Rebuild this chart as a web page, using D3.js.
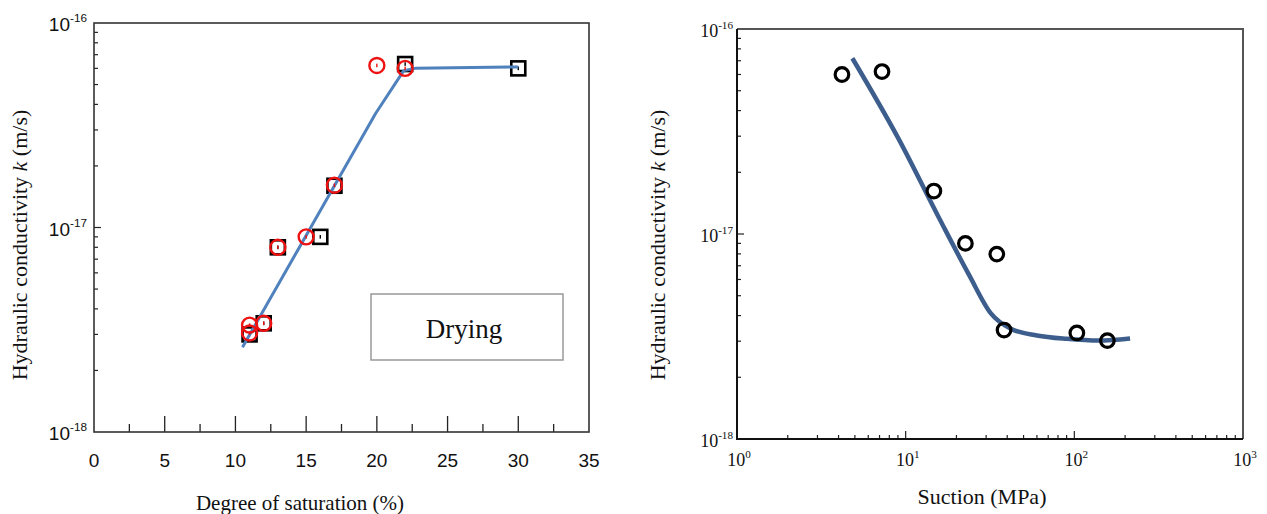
<!DOCTYPE html>
<html><head><meta charset="utf-8">
<script src="https://cdn.jsdelivr.net/npm/d3@7"></script>
<style>body{margin:0;background:#fff}svg{display:block}</style>
</head><body>
<svg id="c" width="1267" height="514"></svg>
<script>
// ---- Data ----
// Left: degree of saturation vs k
const satTicks = [0,5,10,15,20,25,30,35];
const kTickExps = [-16,-17,-18];
const satCircleX = [11, 11, 12, 13, 15, 17, 20, 22];
const satCircleK = [3.33e-18, 3.05e-18, 3.4e-18, 8.0e-18, 9.0e-18, 1.61e-17, 6.2e-17, 6.0e-17];
const satSquareX = [11, 12, 13, 16, 17, 22, 30];
const satSquareK = [3.0e-18, 3.4e-18, 8.0e-18, 9.0e-18, 1.6e-17, 6.3e-17, 6.0e-17];
const satFitX = [10.5, 15.1, 17.0, 19.9, 21.9, 22.7, 30];
const satFitK = [2.6e-18, 9.4e-18, 1.6e-17, 3.6e-17, 5.85e-17, 6.0e-17, 6.1e-17];
const legendLabel = "Drying";
// Right: suction vs k
const suctionTickExps = [0,1,2,3];
const sucPtX = [4.19, 7.24, 14.7, 22.6, 34.7, 38.3, 103.5, 157];
const sucPtK = [6.0e-17, 6.2e-17, 1.62e-17, 9.0e-18, 7.98e-18, 3.4e-18, 3.29e-18, 3.02e-18];
const sucFitX = [4.83, 9.0, 16.0, 23.8, 32, 42, 60, 90, 140, 214];
const sucFitK = [7.2e-17, 2.95e-17, 1.17e-17, 6.3e-18, 4.1e-18, 3.45e-18, 3.2e-18, 3.08e-18, 3.02e-18, 3.09e-18];

const svg = d3.select("#c");

function supLabel(g, x, y, base, exp, opts) {
  const t = g.append("text").attr("x", x).attr("y", y)
    .attr("font-family", opts.family).attr("font-size", opts.size)
    .attr("text-anchor", opts.anchor).attr("fill", "#111");
  t.append("tspan").text(base);
  t.append("tspan").attr("font-size", opts.size*0.62).attr("dy", -opts.size*0.45).text(exp);
  return t;
}
function minorLog(lo, hi) {
  const out = [];
  for (let e = lo; e < hi; e++) for (let m = 2; m <= 9; m++) out.push(m*Math.pow(10,e));
  return out;
}
const SERIF = "Liberation Serif, Times New Roman, serif";
const SANS = "Liberation Sans, Arial, sans-serif";

// ================= LEFT CHART =================
{
  const L = 94, R = 589, T = 23, B = 432;
  const x = d3.scaleLinear().domain([0,35]).range([L,R]);
  const y = d3.scaleLog().domain([1e-18,1e-16]).range([B,T]);
  const g = svg.append("g");

  const yMinor = minorLog(-18,-16);
  g.append("g").selectAll("line").data(yMinor).join("line")
    .attr("x1", L).attr("x2", L+4).attr("y1", d=>y(d)).attr("y2", d=>y(d))
    .attr("stroke","#222").attr("stroke-width",1.2);
  g.append("line").attr("x1",L).attr("x2",L+7).attr("y1",y(1e-17)).attr("y2",y(1e-17))
    .attr("stroke","#222").attr("stroke-width",1.2);
  g.append("g").selectAll("line").data(satTicks.slice(1,-1)).join("line")
    .attr("x1", d=>x(d)).attr("x2", d=>x(d)).attr("y1", B).attr("y2", B-16)
    .attr("stroke","#222").attr("stroke-width",1.3);
  const xMinor = d3.range(2.5, 35, 5);
  g.append("g").selectAll("line").data(xMinor).join("line")
    .attr("x1", d=>x(d)).attr("x2", d=>x(d)).attr("y1", B).attr("y2", B-8)
    .attr("stroke","#222").attr("stroke-width",1.3);
  g.append("rect").attr("x",L).attr("y",T).attr("width",R-L).attr("height",B-T)
    .attr("fill","none").attr("stroke","#333").attr("stroke-width",1.6);

  satTicks.forEach(v => g.append("text").attr("x", x(v)).attr("y", 467)
    .attr("text-anchor","middle").attr("font-family",SANS)
    .attr("font-size",19).attr("fill","#111").text(v));
  kTickExps.forEach(e => supLabel(g, 87, y(Math.pow(10,e))+8, "10", String(e),
    {family:SANS, size:19, anchor:"end"}));

  g.append("text").attr("x", 300).attr("y", 510).attr("text-anchor","middle")
    .attr("font-family",SERIF).attr("font-size",21)
    .attr("fill","#111").text("Degree of saturation (%)");
  const yt = g.append("text").attr("transform","translate(27,245) rotate(-90)")
    .attr("text-anchor","middle").attr("font-family",SERIF)
    .attr("font-size",22).attr("fill","#111");
  yt.append("tspan").text("Hydraulic conductivity ");
  yt.append("tspan").attr("font-style","italic").text("k");
  yt.append("tspan").text(" (m/s)");

  g.append("rect").attr("x",371).attr("y",294).attr("width",192).attr("height",66)
    .attr("fill","#fff").attr("stroke","#999").attr("stroke-width",1.5);
  g.append("text").attr("x",464).attr("y",338).attr("text-anchor","middle")
    .attr("font-family",SERIF).attr("font-size",27)
    .attr("fill","#111").text(legendLabel);

  const sq = satSquareX.map((v,i)=>({x:v,k:satSquareK[i]}));
  const s = 14;
  g.append("g").selectAll("rect").data(sq).join("rect")
    .attr("x", d=>x(d.x)-s/2).attr("y", d=>y(d.k)-s/2).attr("width",s).attr("height",s)
    .attr("fill","none").attr("stroke","#000").attr("stroke-width",2.6);
  g.append("g").selectAll("rect").data(sq).join("rect")
    .attr("x", d=>x(d.x)-0.7).attr("y", d=>y(d.k)-1.8).attr("width",1.4).attr("height",3.6)
    .attr("fill","#000");

  const fit = satFitX.map((v,i)=>({x:v,k:satFitK[i]}));
  g.append("path").datum(fit)
    .attr("d", d3.line().x(d=>x(d.x)).y(d=>y(d.k)).curve(d3.curveLinear))
    .attr("fill","none").attr("stroke","#4f81bd").attr("stroke-width",3)
    .attr("stroke-linejoin","round");

  const ci = satCircleX.map((v,i)=>({x:v,k:satCircleK[i]}));
  g.append("g").selectAll("circle").data(ci).join("circle")
    .attr("cx", d=>x(d.x)).attr("cy", d=>y(d.k)).attr("r",7.5)
    .attr("fill","none").attr("stroke","#ee1111").attr("stroke-width",2.4);
  g.append("g").selectAll("rect").data(ci).join("rect")
    .attr("x", d=>x(d.x)-0.7).attr("y", d=>y(d.k)-1.8).attr("width",1.4).attr("height",3.6)
    .attr("fill","#ee1111");
}

// ================= RIGHT CHART =================
{
  const L = 737, R = 1243, T = 29, B = 439;
  const x = d3.scaleLog().domain([1,1000]).range([L,R]);
  const y = d3.scaleLog().domain([1e-18,1e-16]).range([B,T]);
  const g = svg.append("g");

  const yMinor = minorLog(-18,-16);
  g.append("g").selectAll("line").data(yMinor).join("line")
    .attr("x1", L).attr("x2", L+4).attr("y1", d=>y(d)).attr("y2", d=>y(d))
    .attr("stroke","#222").attr("stroke-width",1.2);
  g.append("line").attr("x1",L).attr("x2",L+7).attr("y1",y(1e-17)).attr("y2",y(1e-17))
    .attr("stroke","#222").attr("stroke-width",1.2);
  const xMinor = minorLog(0,3);
  g.append("g").selectAll("line").data(xMinor).join("line")
    .attr("x1", d=>x(d)).attr("x2", d=>x(d)).attr("y1", B).attr("y2", B-4)
    .attr("stroke","#222").attr("stroke-width",1.2);
  g.append("g").selectAll("line").data([10,100]).join("line")
    .attr("x1", d=>x(d)).attr("x2", d=>x(d)).attr("y1", B).attr("y2", B-8)
    .attr("stroke","#222").attr("stroke-width",1.2);
  g.append("path").attr("d",`M${L},${T}H${R}V${B}`).attr("fill","none")
    .attr("stroke","#555").attr("stroke-width",2);
  g.append("path").attr("d",`M${L},${T}V${B}H${R}`).attr("fill","none")
    .attr("stroke","#111").attr("stroke-width",2);

  suctionTickExps.forEach(e => supLabel(g, x(Math.pow(10,e))+2, 466, "10", String(e),
    {family:SERIF, size:18, anchor:"middle"}));
  kTickExps.forEach(e => supLabel(g, 733, y(Math.pow(10,e))+8, "10", String(e),
    {family:SERIF, size:18, anchor:"end"}));

  g.append("text").attr("x", 982).attr("y", 504).attr("text-anchor","middle")
    .attr("font-family",SERIF).attr("font-size",22)
    .attr("fill","#111").text("Suction (MPa)");
  const yt = g.append("text").attr("transform","translate(665,245) rotate(-90)")
    .attr("text-anchor","middle").attr("font-family",SERIF)
    .attr("font-size",22).attr("fill","#111");
  yt.append("tspan").text("Hydraulic conductivity ");
  yt.append("tspan").attr("font-style","italic").text("k");
  yt.append("tspan").text(" (m/s)");

  const fit = sucFitX.map((v,i)=>({x:v,k:sucFitK[i]}));
  g.append("path").datum(fit)
    .attr("d", d3.line().x(d=>x(d.x)).y(d=>y(d.k)).curve(d3.curveMonotoneX))
    .attr("fill","none").attr("stroke","#3d5e8c").attr("stroke-width",4.5)
    .attr("stroke-linecap","butt");

  const pts = sucPtX.map((v,i)=>({x:v,k:sucPtK[i]}));
  g.append("g").selectAll("circle").data(pts).join("circle")
    .attr("cx", d=>x(d.x)).attr("cy", d=>y(d.k)).attr("r",6.8)
    .attr("fill","none").attr("stroke","#000").attr("stroke-width",3.2);
}
</script>
</body></html>
